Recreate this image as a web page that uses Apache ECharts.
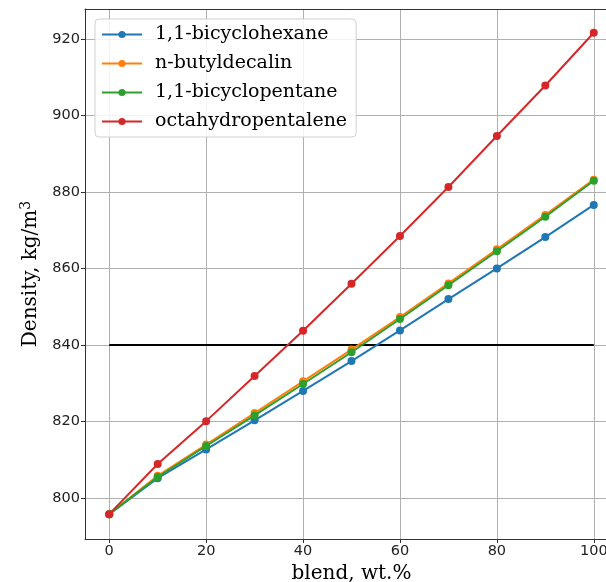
<!DOCTYPE html>
<html><head><meta charset="utf-8">
<script src="https://cdn.jsdelivr.net/npm/echarts@6/dist/echarts.min.js"></script>
<style>html,body{margin:0;padding:0;background:#fff}#c{width:606px;height:582px}</style>
</head><body><div id="c"></div>
<script>
const blend = [0, 10, 20, 30, 40, 50, 60, 70, 80, 90, 100];
const bicyclohexane = [795.8, 805.2, 812.7, 820.3, 828.0, 835.8, 843.8, 852.0, 860.0, 868.2, 876.6];
const butyldecalin = [795.8, 805.8, 814.0, 822.2, 830.5, 838.8, 847.3, 856.1, 865.0, 874.0, 883.2];
const bicyclopentane = [795.8, 805.5, 813.6, 821.6, 829.8, 838.1, 846.8, 855.6, 864.5, 873.5, 882.9];
const octahydropentalene = [795.8, 808.9, 820.1, 831.9, 843.7, 856.0, 868.5, 881.3, 894.6, 907.8, 921.6];
const limitX = [0, 100];
const limitY = [840, 840];
const names = ['1,1-bicyclohexane', 'n-butyldecalin', '1,1-bicyclopentane', 'octahydropentalene'];
const colors = ['#1f77b4', '#ff7f0e', '#2ca02c', '#d62728'];
const values = [bicyclohexane, butyldecalin, bicyclopentane, octahydropentalene];

const chart = echarts.init(document.getElementById('c'));
const series = values.map((v, i) => ({
  name: names[i], type: 'line', data: blend.map((x, j) => [x, v[j]]),
  symbol: 'circle', symbolSize: 8, showSymbol: true,
  lineStyle: {color: colors[i], width: 2}, itemStyle: {color: colors[i]},
  z: 3 + i, animation: false
}));
series.push({
  name: 'limit', type: 'line', data: limitX.map((x, j) => [x, limitY[j]]),
  symbol: 'none', lineStyle: {color: '#000', width: 2}, z: 2, animation: false
});
const labelStyle = {fontFamily: 'DejaVu Sans', fontSize: 14.5, color: '#222', margin: 5, showMinLabel: false, showMaxLabel: false};
chart.setOption({
  animation: false,
  grid: {left: 85, top: 9, bottom: 43, right: -12, outerBoundsMode: 'none', containLabel: false, show: false},
  legend: {
    data: names, orient: 'vertical', left: 95, top: 19,
    itemWidth: 40, itemHeight: 9, itemGap: 10,
    padding: [6, 9, 6, 6],
    backgroundColor: 'rgba(255,255,255,0.85)', borderColor: '#d0d0d0', borderWidth: 1, borderRadius: 4,
    textStyle: {fontFamily: 'DejaVu Serif', fontSize: 19, color: '#000', padding: [0, 0, 0, 8]}
  },
  xAxis: [{
    type: 'value', min: -5, max: 105, splitNumber: 5,
    name: 'blend, wt.%', nameLocation: 'middle', nameGap: 22,
    nameTextStyle: {fontFamily: 'DejaVu Serif', fontSize: 20, color: '#000'},
    axisLine: {show: true, onZero: false, lineStyle: {color: '#333', width: 1}},
    axisTick: {show: true, length: 4, lineStyle: {color: '#333'}},
    axisLabel: labelStyle,
    splitLine: {show: true, lineStyle: {color: '#b0b0b0', width: 1}}
  }, {
    type: 'value', position: 'top', min: -5, max: 105,
    axisLine: {show: true, onZero: false, lineStyle: {color: '#333', width: 1}},
    axisTick: {show: false}, axisLabel: {show: false}, splitLine: {show: false}
  }],
  yAxis: {
    type: 'value', min: 789.3, max: 927.8, splitNumber: 7,
    name: '{a|Density, kg/m}{s|3}', nameLocation: 'middle', nameGap: 42,
    nameTextStyle: {fontFamily: 'DejaVu Serif', fontSize: 20, color: '#000',
      rich: {a: {fontFamily: 'DejaVu Serif', fontSize: 20, color: '#000'},
             s: {fontFamily: 'DejaVu Serif', fontSize: 14, color: '#000', padding: [0, 0, 10, 0]}}},
    axisLine: {show: true, onZero: false, lineStyle: {color: '#333', width: 1}},
    axisTick: {show: true, length: 4, lineStyle: {color: '#333'}},
    axisLabel: labelStyle,
    splitLine: {show: true, lineStyle: {color: '#b0b0b0', width: 1}}
  },
  series: series
});
</script></body></html>
